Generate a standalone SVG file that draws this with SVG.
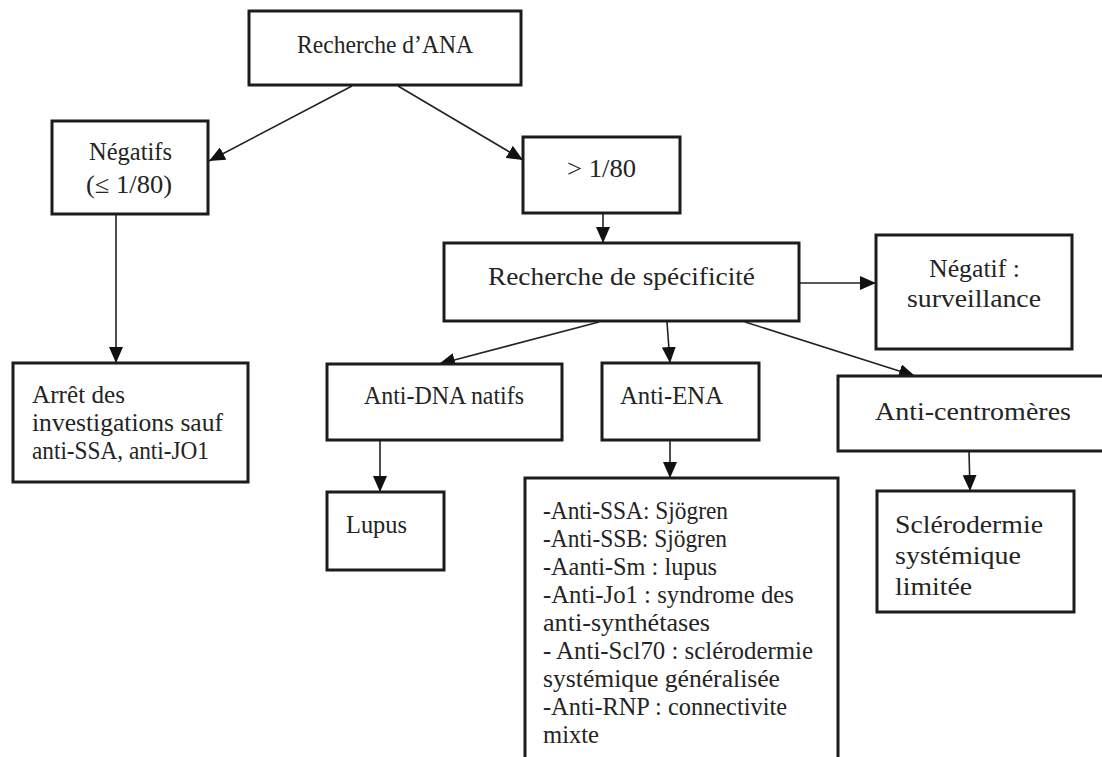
<svg xmlns="http://www.w3.org/2000/svg" width="1102" height="757" viewBox="0 0 1102 757">
<style>
.box{fill:#fff;stroke:#1c1c1c;stroke-width:3}
.t{font-family:"Liberation Serif","Times New Roman",serif;font-size:25px;fill:#242424}
.c{text-anchor:middle}
.edge{stroke:#222;stroke-width:1.6;fill:none;marker-end:url(#ah)}
</style>
<defs>
<marker id="ah" markerUnits="userSpaceOnUse" viewBox="0 0 16 14" markerWidth="16" markerHeight="14" refX="16" refY="7" orient="auto">
<path d="M0,0 L16,7 L0,14 z" fill="#111"/>
</marker>
</defs>
<rect width="1102" height="757" fill="#fff"/>
<g id="connectors">
<line class="edge" x1="352" y1="86" x2="209" y2="161"/>
<line class="edge" x1="398" y1="86" x2="523" y2="160"/>
<line class="edge" x1="116" y1="214" x2="116" y2="363"/>
<line class="edge" x1="603" y1="213" x2="603" y2="243"/>
<line class="edge" x1="799" y1="283" x2="876" y2="283"/>
<line class="edge" x1="599" y1="322" x2="439" y2="364"/>
<line class="edge" x1="667" y1="322" x2="670" y2="363"/>
<line class="edge" x1="745" y1="322" x2="915" y2="376"/>
<line class="edge" x1="380" y1="440" x2="380" y2="492"/>
<line class="edge" x1="670" y1="440" x2="670" y2="478"/>
<line class="edge" x1="969" y1="451" x2="970" y2="491"/>
</g>
<g id="n-ana">
<rect class="box" x="249" y="11" width="272" height="74"/>
<text class="t" x="297" y="53" textLength="176" lengthAdjust="spacingAndGlyphs">Recherche d’ANA</text>
</g>
<g id="n-negatifs">
<rect class="box" x="52" y="121" width="156" height="93"/>
<text class="t" x="89" y="160" textLength="83" lengthAdjust="spacingAndGlyphs">Négatifs</text>
<text class="t" x="86" y="193" textLength="86" lengthAdjust="spacingAndGlyphs">(≤ 1/80)</text>
</g>
<g id="n-sup">
<rect class="box" x="523" y="137" width="157" height="76"/>
<text class="t" x="567" y="177" textLength="69" lengthAdjust="spacingAndGlyphs">&gt; 1/80</text>
</g>
<g id="n-spec">
<rect class="box" x="444" y="243" width="355" height="78"/>
<text class="t" x="488" y="285" textLength="267" lengthAdjust="spacingAndGlyphs">Recherche de spécificité</text>
</g>
<g id="n-surv">
<rect class="box" x="876" y="235" width="196" height="114"/>
<text class="t" x="929" y="277" textLength="91" lengthAdjust="spacingAndGlyphs">Négatif :</text>
<text class="t" x="907" y="307" textLength="134" lengthAdjust="spacingAndGlyphs">surveillance</text>
</g>
<g id="n-arret">
<rect class="box" x="13" y="363" width="235" height="119"/>
<text class="t" x="32" y="403" textLength="93" lengthAdjust="spacingAndGlyphs">Arrêt des</text>
<text class="t" x="32" y="431" textLength="191" lengthAdjust="spacingAndGlyphs">investigations sauf</text>
<text class="t" x="32" y="459" textLength="177" lengthAdjust="spacingAndGlyphs">anti-SSA, anti-JO1</text>
</g>
<g id="n-dna">
<rect class="box" x="327" y="364" width="235" height="76"/>
<text class="t" x="364" y="404" textLength="160" lengthAdjust="spacingAndGlyphs">Anti-DNA natifs</text>
</g>
<g id="n-ena">
<rect class="box" x="602" y="363" width="157" height="77"/>
<text class="t" x="620" y="404" textLength="103" lengthAdjust="spacingAndGlyphs">Anti-ENA</text>
</g>
<g id="n-centro">
<rect class="box" x="838" y="376" width="280" height="75"/>
<text class="t" x="875" y="420" textLength="196" lengthAdjust="spacingAndGlyphs">Anti-centromères</text>
</g>
<g id="n-lupus">
<rect class="box" x="327" y="492" width="117" height="78"/>
<text class="t" x="346" y="533" textLength="61" lengthAdjust="spacingAndGlyphs">Lupus</text>
</g>
<g id="n-list">
<rect class="box" x="525" y="478" width="313" height="320"/>
<text class="t" x="543" y="519" textLength="185" lengthAdjust="spacingAndGlyphs">-Anti-SSA: Sjögren</text>
<text class="t" x="543" y="547" textLength="184" lengthAdjust="spacingAndGlyphs">-Anti-SSB: Sjögren</text>
<text class="t" x="543" y="575" textLength="174" lengthAdjust="spacingAndGlyphs">-Aanti-Sm : lupus</text>
<text class="t" x="543" y="603" textLength="251" lengthAdjust="spacingAndGlyphs">-Anti-Jo1 : syndrome des</text>
<text class="t" x="543" y="631" textLength="167" lengthAdjust="spacingAndGlyphs">anti-synthétases</text>
<text class="t" x="543" y="659" textLength="270" lengthAdjust="spacingAndGlyphs">- Anti-Scl70 : sclérodermie</text>
<text class="t" x="543" y="687" textLength="237" lengthAdjust="spacingAndGlyphs">systémique généralisée</text>
<text class="t" x="543" y="715" textLength="244" lengthAdjust="spacingAndGlyphs">-Anti-RNP : connectivite</text>
<text class="t" x="543" y="743" textLength="56" lengthAdjust="spacingAndGlyphs">mixte</text>
</g>
<g id="n-sclero">
<rect class="box" x="877" y="491" width="197" height="121"/>
<text class="t" x="895" y="533" textLength="148" lengthAdjust="spacingAndGlyphs">Sclérodermie</text>
<text class="t" x="895" y="564" textLength="126" lengthAdjust="spacingAndGlyphs">systémique</text>
<text class="t" x="895" y="595" textLength="77" lengthAdjust="spacingAndGlyphs">limitée</text>
</g>
</svg>
